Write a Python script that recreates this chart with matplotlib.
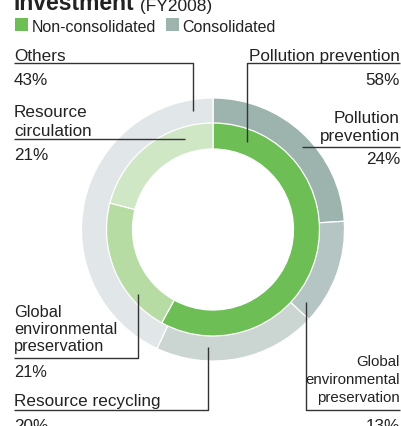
import matplotlib
matplotlib.use("Agg")
import matplotlib.pyplot as plt

plt.rcParams['font.family'] = ['Liberation Sans', 'DejaVu Sans']

# inner ring: non-consolidated, outer ring: consolidated (%)
inner_labels = ["Pollution prevention", "Global environmental preservation", "Resource circulation"]
inner_values = [58, 21, 21]
inner_colors = ["#6dbe55", "#b6dca4", "#cfe7c5"]

outer_labels = ["Pollution prevention", "Global environmental preservation", "Resource recycling", "Others"]
outer_values = [24, 13, 20, 43]
outer_colors = ["#9cb4ad", "#b4c5c4", "#cbd5d2", "#e1e6e8"]

legend_names = ["Non-consolidated", "Consolidated"]
legend_colors = ["#6dbe55", "#9cb4ad"]

W, H = 402, 427
txt = "#222222"
ln = "#333333"


def Y(p):
    # pixel row from top -> data y
    return H - p


fig = plt.figure(figsize=(W / 100, H / 100), dpi=100)
ax = fig.add_axes([0, 0, 1, 1])

cx, cy = 213, Y(230.5)
ax.pie(outer_values, colors=outer_colors, radius=131.5, center=(cx, cy),
       startangle=90, counterclock=False,
       wedgeprops=dict(width=25.5, edgecolor="white", linewidth=0.9))
ax.pie(inner_values, colors=inner_colors, radius=106.5, center=(cx, cy),
       startangle=90, counterclock=False,
       wedgeprops=dict(width=26, edgecolor="white", linewidth=0.9))

ax.set_xlim(0, W)
ax.set_ylim(0, H)
ax.set_aspect("equal")
ax.axis("off")

# title (top half cut off in the original)
t = ax.text(14, Y(10.5), "Investment", fontsize=16.5, fontweight="bold", color=txt, va="baseline")
ax.annotate(" (FY2008)", xy=(1, Y(10.5)), xycoords=(t, "data"), fontsize=12.5,
            color=txt, va="baseline")

# legend
lx = [15, 166]
tx = [32, 182]
for name, col, x0, x1 in zip(legend_names, legend_colors, lx, tx):
    ax.add_patch(plt.Rectangle((x0, Y(32)), 13, 13, color=col, lw=0))
    ax.text(x1, Y(31.5), name, fontsize=11.5, color=txt, va="baseline")


def lines(x, baselines, texts, ha="left", size=12.3):
    for b, s in zip(baselines, texts):
        ax.text(x, Y(b), s, ha=ha, va="baseline", color=txt, fontsize=size)


def leader(xs, ys):
    ax.plot(xs, [Y(v) for v in ys], color=ln, lw=1.0, solid_capstyle="butt")


# Others 43%
lines(14, [61, 85], ["Others", f"{outer_values[3]}%"])
leader([14, 193, 193], [64, 64, 112])

# Pollution prevention 58%
lines(400, [61, 85], ["Pollution prevention", f"{inner_values[0]}%"], ha="right")
leader([400, 247, 247], [64, 64, 143])

# Resource circulation 21%
lines(14, [117, 136, 160], ["Resource", "circulation", f"{inner_values[2]}%"])
leader([14, 185], [140, 140])

# Pollution prevention 24%
lines(400, [123, 141, 164], ["Pollution", "prevention", f"{outer_values[0]}%"], ha="right")
leader([400, 302], [148, 148])

# Global environmental preservation 21%
lines(14, [317, 334, 351, 377],
      ["Global", "environmental", "preservation", f"{inner_values[1]}%"], size=11.8)
leader([14, 138, 138], [359, 359, 295])

# Resource recycling 20%
lines(14, [406, 431], ["Resource recycling", f"{outer_values[2]}%"])
leader([14, 208, 208], [411, 411, 348])

# Global environmental preservation 13%
lines(400, [366, 384, 402], ["Global", "environmental", "preservation"], ha="right", size=10.8)
lines(400, [431], [f"{outer_values[1]}%"], ha="right")
leader([400, 306, 306], [411, 411, 303])

fig.savefig("out.png", dpi=100)
